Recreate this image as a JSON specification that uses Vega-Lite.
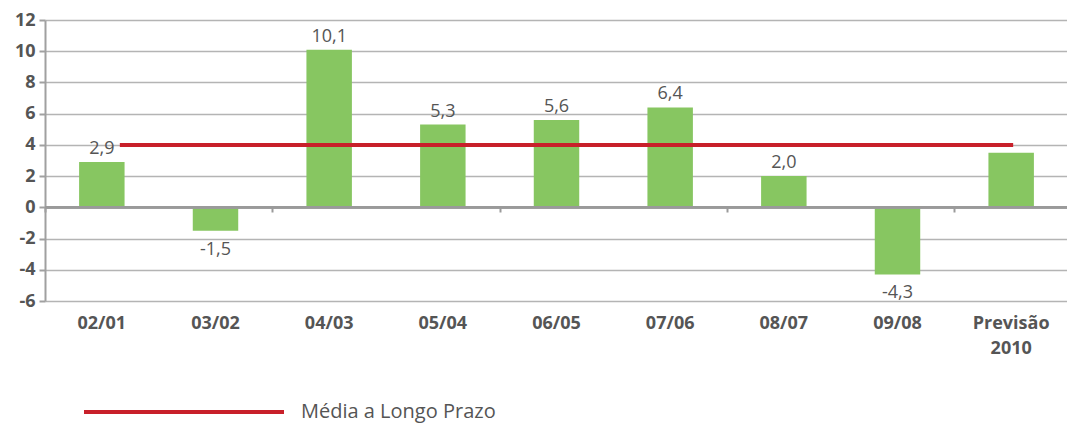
{
  "$schema": "https://vega.github.io/schema/vega-lite/v6.json",
  "autosize": {"type": "none"},
  "padding": {"left": 45, "top": 20, "right": 0, "bottom": 122},
  "width": 1023,
  "height": 281,
  "config": {
    "view": {"stroke": null},
    "font": "Open Sans",
    "axis": {"labelFont": "Open Sans", "labelColor": "#555555"}
  },
  "datasets": {
    "bars": [
      {"periodo": "02/01", "valor": 2.9, "rotulo": "2,9"},
      {"periodo": "03/02", "valor": -1.5, "rotulo": "-1,5"},
      {"periodo": "04/03", "valor": 10.1, "rotulo": "10,1"},
      {"periodo": "05/04", "valor": 5.3, "rotulo": "5,3"},
      {"periodo": "06/05", "valor": 5.6, "rotulo": "5,6"},
      {"periodo": "07/06", "valor": 6.4, "rotulo": "6,4"},
      {"periodo": "08/07", "valor": 2.0, "rotulo": "2,0"},
      {"periodo": "09/08", "valor": -4.3, "rotulo": "-4,3"},
      {"periodo": "Previsão 2010", "valor": 3.5, "rotulo": ""}
    ],
    "media": [
      {"inicio": "02/01", "fim": "Previsão 2010", "valor": 4.0, "serie": "Média a Longo Prazo"}
    ]
  },
  "layer": [
    {
      "data": {"name": "bars"},
      "mark": {"type": "bar", "color": "#87c661"},
      "encoding": {
        "x": {
          "field": "periodo", "type": "nominal", "sort": null,
          "scale": {"paddingInner": 0.6, "paddingOuter": 0.3},
          "axis": {
            "title": null, "domain": false, "ticks": false, "labelAngle": 0, "orient": "bottom",
            "labelFontSize": 18, "labelFontWeight": "bold", "labelPadding": 13,
            "labelColor": "#555555", "labelLineHeight": 25,
            "labelExpr": "datum.label == 'Previsão 2010' ? ['Previsão', '2010'] : datum.label"
          }
        },
        "y": {
          "field": "valor", "type": "quantitative",
          "scale": {"domain": [-6, 12], "nice": false},
          "axis": {
            "title": null, "values": [-6, -4, -2, 0, 2, 4, 6, 8, 10, 12], "labelOverlap": false,
            "labelExpr": "replace(datum.label, '−', '-')",
            "labelFontSize": 18, "labelFontWeight": "bold", "labelColor": "#555555",
            "domainColor": "#a0a0a0", "domainWidth": 2,
            "tickColor": "#a0a0a0", "tickWidth": 2, "tickSize": 6, "labelPadding": 4,
            "gridColor": "#b4b4b4", "gridWidth": 1.5
          }
        }
      }
    },
    {
      "data": {"name": "bars"},
      "mark": {"type": "rule", "color": "#9a9a9a", "strokeWidth": 2},
      "encoding": {
        "y": {"datum": 0, "type": "quantitative", "axis": null}
      }
    },
    {
      "data": {"name": "bars"},
      "transform": [{"filter": "datum.valor >= 0"}],
      "mark": {"type": "text", "baseline": "bottom", "dy": -4, "fontSize": 18, "color": "#555555"},
      "encoding": {
        "x": {"field": "periodo", "type": "nominal", "sort": null, "axis": null},
        "y": {"field": "valor", "type": "quantitative", "axis": null},
        "text": {"field": "rotulo"}
      }
    },
    {
      "data": {"name": "bars"},
      "transform": [{"filter": "datum.valor < 0"}],
      "mark": {"type": "text", "baseline": "top", "dy": 10, "fontSize": 18, "color": "#555555"},
      "encoding": {
        "x": {"field": "periodo", "type": "nominal", "sort": null, "axis": null},
        "y": {"field": "valor", "type": "quantitative", "axis": null},
        "text": {"field": "rotulo"}
      }
    },
    {
      "data": {"name": "bars"},
      "mark": {"type": "tick", "opacity": 0},
      "encoding": {
        "x": {
          "field": "periodo", "type": "nominal", "sort": null,
          "axis": {
            "title": null, "labels": false, "offset": -94, "bandPosition": 0, "tickOffset": -34, "orient": "bottom",
            "values": ["02/01", "04/03", "06/05", "08/07", "Previsão 2010"],
            "domainColor": "#9a9a9a", "domainWidth": 2,
            "tickColor": "#9a9a9a", "tickWidth": 2, "tickSize": 5
          }
        }
      }
    },
    {
      "data": {"name": "media"},
      "mark": {"type": "rule", "strokeWidth": 4, "xOffset": 18, "x2Offset": 2},
      "encoding": {
        "x": {"field": "inicio", "type": "nominal", "sort": null, "axis": null},
        "x2": {"field": "fim"},
        "y": {"field": "valor", "type": "quantitative", "axis": null},
        "color": {
          "field": "serie", "type": "nominal",
          "scale": {"range": ["#c8202a"]},
          "legend": {
            "title": null, "orient": "none", "legendX": 37, "legendY": 290,
            "symbolType": "stroke", "symbolSize": 40000, "symbolStrokeWidth": 4,
            "labelFontSize": 20, "labelColor": "#555555", "labelOffset": 15, "labelLimit": 400
          }
        }
      }
    }
  ],
  "resolve": {"axis": {"x": "independent", "y": "independent"}}
}
